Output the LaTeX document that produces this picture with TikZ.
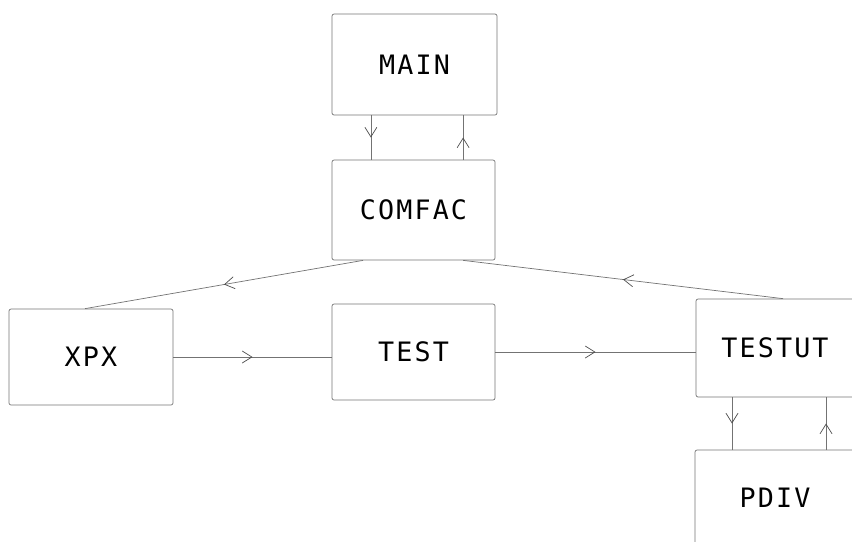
\documentclass[tikz,border=0pt]{standalone}
\usepackage{fontspec}
\setmonofont{DejaVu Sans Mono}[LetterSpace=8]
\usetikzlibrary{arrows.meta,decorations.markings}

\tikzset{
    box/.style={draw=black!55, line width=0.5pt, rounded corners=1.5pt,
        font=\ttfamily\fontsize{19}{19}\selectfont},
    flow/.style={draw=black!55, line width=0.5pt, postaction={decorate},
        decoration={markings, mark=at position 0.5 with
            {\arrow[black!70]{Straight Barb[length=2.4mm,width=3mm]}}}}
}

\begin{document}
\begin{tikzpicture}[x=0.025cm, y=-0.025cm]
        \useasboundingbox (0,0) rectangle (852,541);
        \clip (0,0) rectangle (852,541);

        \node[box, minimum width=4.125cm, minimum height=2.525cm] (main)   at (414.5, 64.5) {MAIN};
        \node[box, minimum width=4.075cm, minimum height=2.5cm]   (comfac) at (413.5,210)   {COMFAC};
        \node[box, minimum width=4.1cm,   minimum height=2.4cm]   (xpx)    at (91,  357)    {XPX};
        \node[box, minimum width=4.075cm, minimum height=2.4cm]   (test)   at (413.5,352)   {TEST};
        \node[box, minimum width=3.95cm,  minimum height=2.45cm]  (testut) at (775, 348)    {TESTUT};
        \node[box, minimum width=4cm,     minimum height=2.4cm]   (pdiv)   at (775, 498)    {PDIV};

        % calls between MAIN and COMFAC
        \draw[flow] ([xshift=-1.09cm]main.south) -- ([xshift=-1.09cm]main.south |- comfac.north);
        \draw[flow] ([xshift=1.24cm]comfac.north) -- ([xshift=1.24cm]comfac.north |- main.south);

        \draw[flow] ([xshift=-1.26cm]comfac.south) -- ([xshift=-0.15cm]xpx.north);
        \draw[flow] ([xshift=0.2cm]testut.north) -- ([xshift=1.24cm]comfac.south);

        \draw[flow] (xpx.east) -- (xpx.east -| test.west);
        \draw[flow] (test.east) -- (test.east -| testut.west);

        % calls between TESTUT and PDIV
        \draw[flow] ([xshift=-1.075cm]testut.south) -- ([xshift=-1.075cm]testut.south |- pdiv.north);
        \draw[flow] ([xshift=1.275cm]pdiv.north) -- ([xshift=1.275cm]pdiv.north |- testut.south);
    \end{tikzpicture}
\end{document}
